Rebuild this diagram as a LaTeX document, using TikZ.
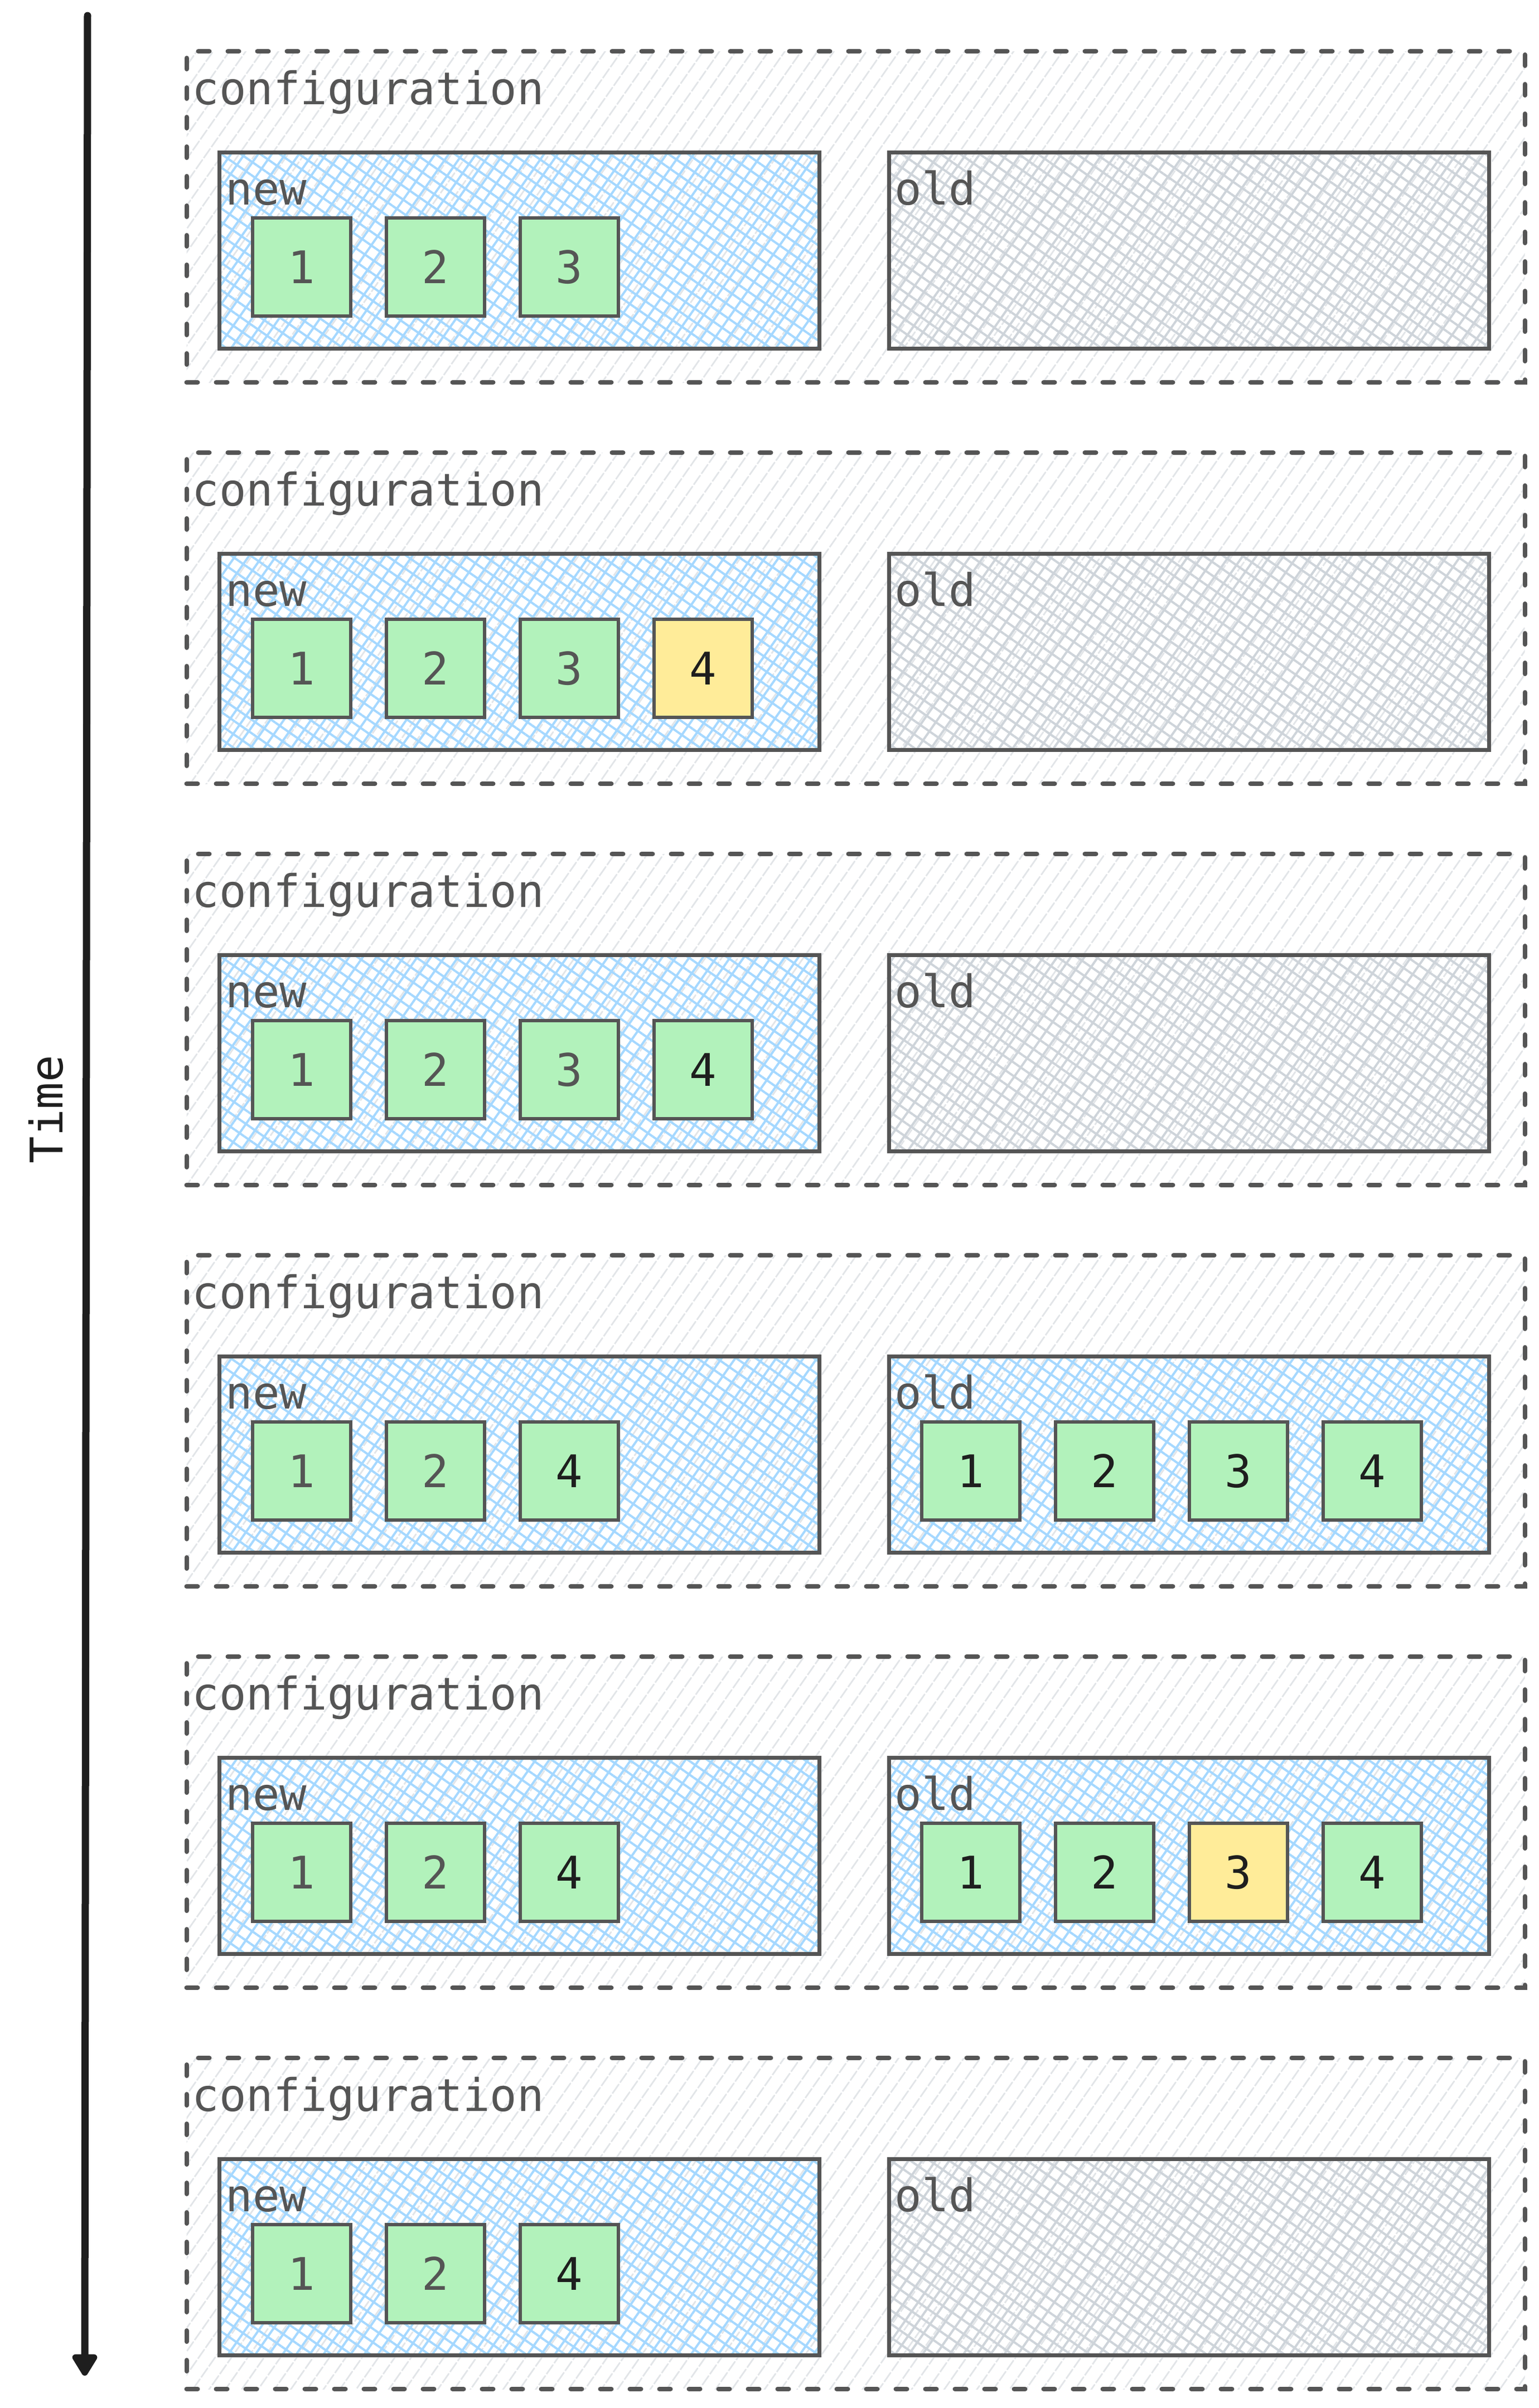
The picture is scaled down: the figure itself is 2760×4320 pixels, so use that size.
\documentclass[tikz,border=0pt]{standalone}
\usepackage{fontspec}
\newfontfamily\codefont{DejaVu Sans Mono}
\usetikzlibrary{arrows.meta,patterns.meta}
\definecolor{linegray}{HTML}{555555}
\definecolor{inkblack}{HTML}{1E1E1E}
\definecolor{hachgray}{HTML}{E2E5E8}
\definecolor{hachblue}{HTML}{A5D8FF}
\definecolor{hacholdgray}{HTML}{CED4DA}
\definecolor{boxgreen}{HTML}{B2F2BB}
\definecolor{boxyellow}{HTML}{FFEC99}
\tikzset{
  codetext/.style={font=\codefont\fontsize{20.15}{24}\selectfont},
  lbl/.style={codetext,text=linegray,inner sep=0pt,anchor=base west},
  cfgbox/.style={draw=linegray,line width=2pt,dash pattern=on 5pt off 8.25pt,line cap=round,
    pattern={Lines[angle=55,distance=6pt,line width=0.7pt]},pattern color=hachgray,
    minimum width=600pt,minimum height=148.5pt,inner sep=0pt},
  slotbox/.style={draw=linegray,line width=1.75pt,
    pattern={Hatch[angle=55,distance=5pt,line width=1pt]},
    minimum width=269pt,minimum height=88pt,inner sep=0pt},
  sq/.style={codetext,draw=linegray,line width=1.5pt,minimum size=44pt,inner sep=0pt},
  timearrow/.style={draw=inkblack,line width=3.25pt,line cap=round,-{Triangle[length=11pt,width=12.5pt,round]}}
}
\begin{document}
\begin{tikzpicture}[x=0.25pt,y=-0.25pt]
\fill[white] (0,0) rectangle (2760,4320);
% Trục thời gian
\coordinate (tstart) at (157,28);
\coordinate (tend) at (152,4262);
\draw[timearrow] (tstart) -- (tend);
\node[codetext,text=inkblack,rotate=90,inner sep=0pt] (time) at (82,1990) {Time};
% Các khung cấu hình
\foreach \i/\pc in {0/hacholdgray,1/hacholdgray,2/hacholdgray,3/hachblue,4/hachblue,5/hacholdgray}{
  \node[cfgbox] (cfg\i) at (1534.5,389+720*\i) {};
  \node[lbl] (cfglbl\i) at (344,187+720*\i) {configuration};
  \node[slotbox,pattern color=hachblue] (new\i) at (931.5,449.5+720*\i) {};
  \node[slotbox,pattern color=\pc] (old\i) at (2132,449.5+720*\i) {};
  \node[lbl] (newlbl\i) at (404,367+720*\i) {new};
  \node[lbl] (oldlbl\i) at (1604,367+720*\i) {old};
}
% Ô trong new
\foreach \k/\d/\f/\t in {0/1/boxgreen/linegray,1/2/boxgreen/linegray,2/3/boxgreen/linegray}
  \node[sq,fill=\f,text=\t] (n0-\d) at (541+240*\k,479) {\d};
\foreach \k/\d/\f/\t in {0/1/boxgreen/linegray,1/2/boxgreen/linegray,2/3/boxgreen/linegray,3/4/boxyellow/inkblack}
  \node[sq,fill=\f,text=\t] (n1-\d) at (541+240*\k,1199) {\d};
\foreach \k/\d/\f/\t in {0/1/boxgreen/linegray,1/2/boxgreen/linegray,2/3/boxgreen/linegray,3/4/boxgreen/inkblack}
  \node[sq,fill=\f,text=\t] (n2-\d) at (541+240*\k,1919) {\d};
\foreach \r in {3,4,5}
\foreach \k/\d/\f/\t in {0/1/boxgreen/linegray,1/2/boxgreen/linegray,2/4/boxgreen/inkblack}
  \node[sq,fill=\f,text=\t] (n\r-\d) at (541+240*\k,479+720*\r) {\d};
% Ô trong old
\foreach \k/\d/\f in {0/1/boxgreen,1/2/boxgreen,2/3/boxgreen,3/4/boxgreen}
  \node[sq,fill=\f,text=inkblack] (o3-\d) at (1741+240*\k,2639) {\d};
\foreach \k/\d/\f in {0/1/boxgreen,1/2/boxgreen,2/3/boxyellow,3/4/boxgreen}
  \node[sq,fill=\f,text=inkblack] (o4-\d) at (1741+240*\k,3359) {\d};
\end{tikzpicture}
\end{document}
